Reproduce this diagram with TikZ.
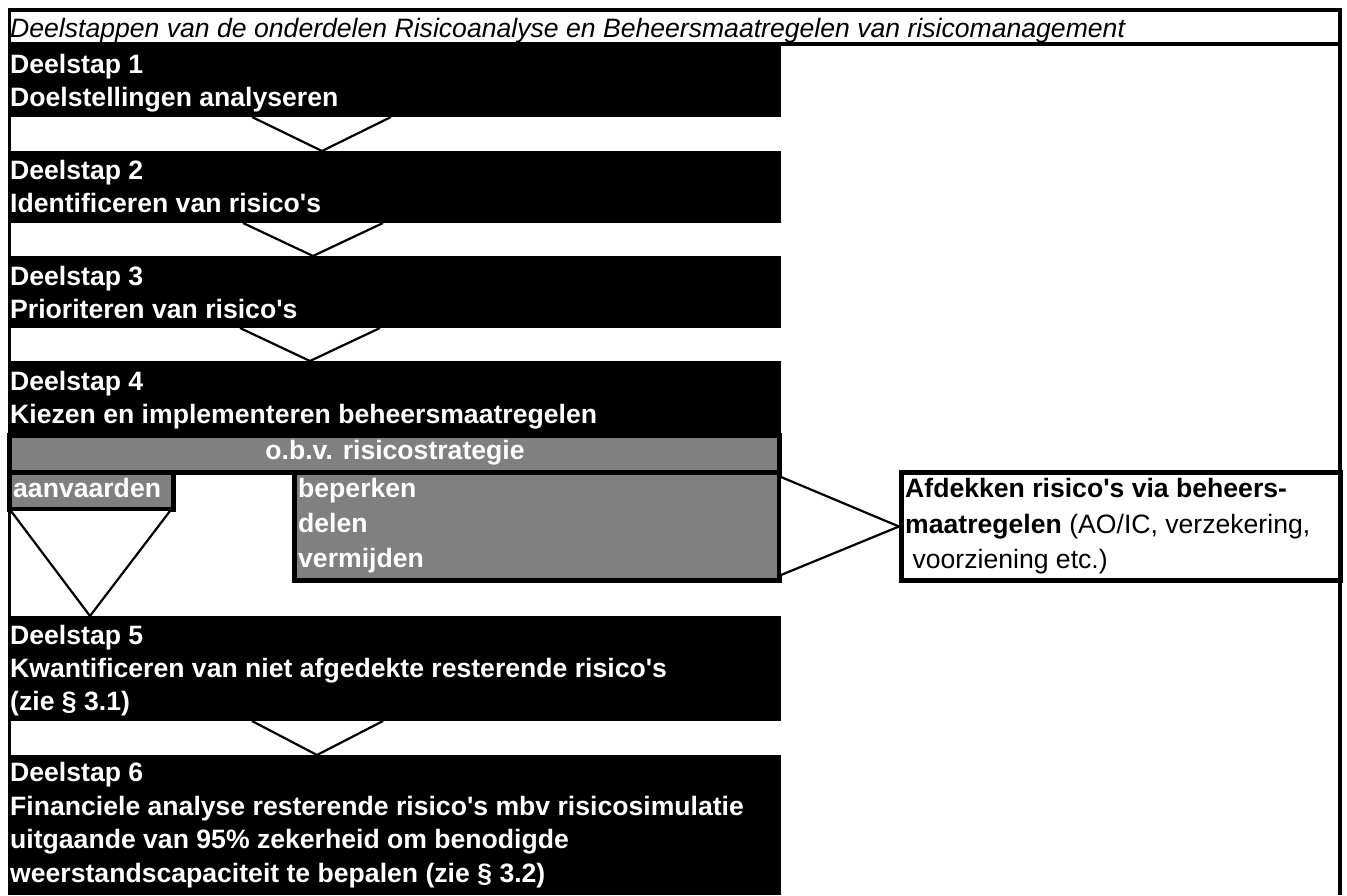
\documentclass[tikz,border=0pt]{standalone}
\usepackage{fontspec}
\newfontfamily\arialfont{Liberation Sans}
\usepackage{tikz}
\usetikzlibrary{calc}
\definecolor{stratgray}{HTML}{808080}
\newcommand{\diagfont}{\arialfont\fontsize{26.6pt}{33pt}\selectfont}

\begin{document}
\begin{tikzpicture}[
    x=1pt, y=-1pt,
    font=\diagfont,
    stepbox/.style={fill=black, inner sep=0, outer sep=0, anchor=north west, minimum width=770},
    graybox/.style={fill=stratgray, draw=black, line width=5pt, inner sep=0, outer sep=0, anchor=north west},
    steptext/.style={text=white, font=\diagfont\bfseries, anchor=base west, inner sep=0},
    chevron/.style={draw=black, fill=white, line width=2.2pt, line join=miter},
    frameline/.style={draw=black, line width=3.5pt},
]
\useasboundingbox (0,0) rectangle (1347,895);

% Title row and outer frame
\node[frameline, fill=white, inner sep=0, outer sep=0, anchor=north west,
      minimum width=1330.5, minimum height=34] (title) at (9.5,10) {};
\draw[frameline] (title.south west) -- ++(0,851);
\draw[frameline] (title.south east) -- ++(0,851);
\node[anchor=base west, inner sep=0, font=\diagfont\itshape] (titletxt) at (10,37)
    {Deelstappen van de onderdelen Risicoanalyse en Beheersmaatregelen van risicomanagement};

% Step boxes
\node[stepbox, minimum height=73] (s1) at (11,44) {};
\node[stepbox, minimum height=72] (s2) at (11,151) {};
\node[stepbox, minimum height=72] (s3) at (11,256) {};
\node[stepbox, minimum height=77] (s4) at (11,361) {};
\node[stepbox, minimum height=105] (s5) at (11,616) {};
\node[stepbox, minimum height=140] (s6) at (11,755) {};

% Strategy (gray) cells
\node[graybox, minimum width=769.5, minimum height=37] (strat) at (9.5,435.5) {};
\node[graybox, minimum width=163.5, minimum height=36.5] (aanv) at (9.5,472.5) {};
\node[graybox, minimum width=484.5, minimum height=108] (beperk) at (294.5,472.5) {};

% Side box
\node[draw=black, line width=5pt, fill=white, inner sep=0, outer sep=0, anchor=north west,
      minimum width=438.5, minimum height=108] (afdek) at (901.5,472.5) {};

% Chevrons between the steps
\draw[chevron] ($(s1.south west)+(241,0)$) -- ($(s2.north west)+(311,0)$) -- ($(s1.south west)+(380,0)$);
\draw[chevron] ($(s2.south west)+(232,0)$) -- ($(s3.north west)+(302,0)$) -- ($(s2.south west)+(372,0)$);
\draw[chevron] ($(s3.south west)+(229,0)$) -- ($(s4.north west)+(299,0)$) -- ($(s3.south west)+(369,0)$);
\draw[chevron] ($(aanv.south west)+(1.5,2)$) -- ($(s5.north west)+(79,0)$) -- ($(aanv.south east)+(-3,2)$);
\draw[chevron] ($(beperk.north east)+(2,4.5)$) -- ($(afdek.west)+(-2.5,0)$) -- ($(beperk.south east)+(2,-5.5)$);
\draw[chevron] ($(s5.south west)+(241,0)$) -- ($(s6.north west)+(306,0)$) -- ($(s5.south west)+(372,0)$);

% Step texts
\node[steptext] (s1a) at (10,73) {Deelstap 1};
\node[steptext] (s1b) at (10,106) {Doelstellingen analyseren};
\node[steptext] (s2a) at (10,179) {Deelstap 2};
\node[steptext] (s2b) at (10,212) {Identificeren van risico's};
\node[steptext] (s3a) at (10,285) {Deelstap 3};
\node[steptext] (s3b) at (10,318) {Prioriteren van risico's};
\node[steptext] (s4a) at (10,390) {Deelstap 4};
\node[steptext] (s4b) at (10,423) {Kiezen en implementeren beheersmaatregelen};
\node[steptext, anchor=base] (strattxt) at (395,459) {o.b.v. risicostrategie};
\node[steptext] (aanvtxt) at (13,497) {aanvaarden};
\node[steptext] (bep1) at (298,497) {beperken};
\node[steptext] (bep2) at (298,532) {delen};
\node[steptext] (bep3) at (298,567) {vermijden};
\node[steptext] (s5a) at (10,644) {Deelstap 5};
\node[steptext] (s5b) at (10,677) {Kwantificeren van niet afgedekte resterende risico's};
\node[steptext] (s5c) at (10,710) {(zie \S\ 3.1)};
\node[steptext] (s6a) at (10,781) {Deelstap 6};
\node[steptext] (s6b) at (10,815) {Financiele analyse resterende risico's mbv risicosimulatie};
\node[steptext] (s6c) at (10,848) {uitgaande van 95\% zekerheid om benodigde};
\node[steptext] (s6d) at (10,882) {weerstandscapaciteit te bepalen (zie \S\ 3.2)};

% Side box text
\node[anchor=base west, inner sep=0, font=\diagfont\bfseries] (af1) at (905,497) {Afdekken risico's via beheers-};
\node[anchor=base west, inner sep=0] (af2) at (905,533) {\textbf{maatregelen} (AO/IC, verzekering,};
\node[anchor=base west, inner sep=0] (af3) at (905,568) {\ voorziening etc.)};

\end{tikzpicture}
\end{document}
